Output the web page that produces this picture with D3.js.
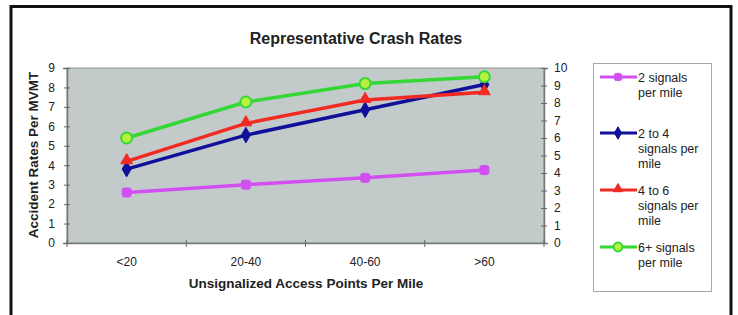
<!DOCTYPE html>
<html lang="en">
<head>
<meta charset="UTF-8">
<title>Representative Crash Rates</title>
<script src="https://d3js.org/d3.v7.min.js"></script>
<style>
    body { margin: 0; background: #ffffff; }
    svg text { font-family: "Liberation Sans", Arial, sans-serif; fill: #222; }
</style>
</head>
<body>
<svg id="chart" width="738" height="315"></svg>
<script>
    // Data
    var categories = ["<20", "20-40", "40-60", ">60"];
    var seriesNames = ["2 signals per mile", "2 to 4 signals per mile", "4 to 6 signals per mile", "6+ signals per mile"];
    var legendLines = [["2 signals", "per mile"], ["2 to 4", "signals per", "mile"], ["4 to 6", "signals per", "mile"], ["6+ signals", "per mile"]];
    var twoSignals = [2.6, 3.0, 3.35, 3.75];
    var twoToFour = [3.8, 5.55, 6.85, 8.15];
    var fourToSix = [4.2, 6.15, 7.35, 7.75];
    var sixPlus = [5.4, 7.25, 8.2, 8.55];
    var leftTicks = [0, 1, 2, 3, 4, 5, 6, 7, 8, 9];
    var rightTicks = [0, 1, 2, 3, 4, 5, 6, 7, 8, 9, 10];

    var series = [
        { name: seriesNames[0], values: twoSignals, color: "#d24ff0", marker: "square", fill: "#d24ff0" },
        { name: seriesNames[1], values: twoToFour, color: "#10109a", marker: "diamond", fill: "#10109a" },
        { name: seriesNames[2], values: fourToSix, color: "#f22a22", marker: "triangle", fill: "#f22a22" },
        { name: seriesNames[3], values: sixPlus, color: "#34d834", marker: "circle", fill: "#b8f040" }
    ];

    var svg = d3.select("#chart");

    // outer frame (no bottom edge in the picture)
    svg.append("path")
        .attr("d", "M11,330 L11,6.5 L731,6.5 L731,330")
        .attr("fill", "none")
        .attr("stroke", "#111")
        .attr("stroke-width", 3);

    var plot = { left: 67, right: 544, top: 68, bottom: 243 };

    var x = d3.scaleBand().domain(categories).range([plot.left, plot.right]);
    var y = d3.scaleLinear().domain([0, 9]).range([plot.bottom, plot.top]);
    var y2 = d3.scaleLinear().domain([0, 10]).range([plot.bottom, plot.top]);

    // plot background
    svg.append("rect")
        .attr("x", plot.left).attr("y", plot.top)
        .attr("width", plot.right - plot.left).attr("height", plot.bottom - plot.top)
        .attr("fill", "#c3cbca")
        .attr("stroke", "#8c9494");

    // left axis
    var gl = svg.append("g").attr("transform", "translate(" + plot.left + ",0)")
        .call(d3.axisLeft(y).tickValues(leftTicks).tickSize(4).tickPadding(8));
    // right axis
    var gr = svg.append("g").attr("transform", "translate(" + plot.right + ",0)")
        .call(d3.axisRight(y2).tickValues(rightTicks).tickSize(4).tickPadding(6));
    // bottom axis, ticks at category boundaries
    var gb = svg.append("g").attr("transform", "translate(0," + plot.bottom + ")")
        .call(d3.axisBottom(x).tickSize(0).tickPadding(14));
    gb.selectAll(".bound").data(d3.range(categories.length + 1)).join("line")
        .attr("x1", function (i) { return plot.left + i * x.bandwidth(); })
        .attr("x2", function (i) { return plot.left + i * x.bandwidth(); })
        .attr("y1", -3).attr("y2", 4)
        .attr("stroke", "#666");

    [gl, gr, gb].forEach(function (g) {
        g.select(".domain").attr("stroke", "#777").attr("stroke-width", 1.5);
        g.selectAll(".tick line").attr("stroke", "#666");
        g.selectAll(".tick text").attr("font-size", 12).attr("fill", "#333");
    });
    gl.selectAll(".tick line").attr("x2", 3).attr("x1", -3);
    gr.selectAll(".tick line").attr("x1", -3).attr("x2", 3);

    // lines
    var line = d3.line()
        .x(function (d, i) { return x(categories[i]) + x.bandwidth() / 2; })
        .y(function (d) { return y(d); });

    function drawMarker(g, s, cx, cy, scale) {
        var k = scale || 1;
        if (s.marker === "square") {
            g.append("rect").attr("x", cx - 4.5 * k).attr("y", cy - 4.5 * k)
                .attr("width", 9 * k).attr("height", 9 * k).attr("rx", 2)
                .attr("fill", s.fill).attr("stroke", s.color);
        } else if (s.marker === "diamond") {
            g.append("path").attr("d", d3.symbol(d3.symbolDiamond, 70 * k * k)())
                .attr("transform", "translate(" + cx + "," + cy + ")")
                .attr("fill", s.fill).attr("stroke", s.color);
        } else if (s.marker === "triangle") {
            g.append("path").attr("d", d3.symbol(d3.symbolTriangle, 60 * k * k)())
                .attr("transform", "translate(" + cx + "," + (cy - 1) + ")")
                .attr("fill", s.fill).attr("stroke", s.color);
        } else {
            g.append("circle").attr("cx", cx).attr("cy", cy).attr("r", 5.5 * k)
                .attr("fill", s.fill).attr("stroke", s.color).attr("stroke-width", 2);
        }
    }

    series.forEach(function (s) {
        svg.append("path")
            .datum(s.values)
            .attr("d", line)
            .attr("fill", "none")
            .attr("stroke", s.color)
            .attr("stroke-width", 3.5);
        var g = svg.append("g");
        s.values.forEach(function (v, i) {
            drawMarker(g, s, x(categories[i]) + x.bandwidth() / 2, y(v));
        });
    });

    // titles
    svg.append("text")
        .attr("x", 356).attr("y", 44)
        .attr("text-anchor", "middle")
        .attr("font-size", 16).attr("font-weight", "bold")
        .text("Representative Crash Rates");

    svg.append("text")
        .attr("x", 306).attr("y", 288)
        .attr("text-anchor", "middle")
        .attr("font-size", 13.5).attr("font-weight", "bold")
        .text("Unsignalized Access Points Per Mile");

    svg.append("text")
        .attr("transform", "translate(38,155) rotate(-90)")
        .attr("text-anchor", "middle")
        .attr("font-size", 13.5).attr("font-weight", "bold")
        .text("Accident Rates Per MVMT");

    // legend
    svg.append("rect")
        .attr("x", 593.5).attr("y", 63.5)
        .attr("width", 118).attr("height", 228)
        .attr("fill", "#ffffff")
        .attr("stroke", "#a8a8a8");

    var legendY = [77, 133, 190, 247];
    series.forEach(function (s, i) {
        var g = svg.append("g");
        g.append("line")
            .attr("x1", 600).attr("x2", 637)
            .attr("y1", legendY[i]).attr("y2", legendY[i])
            .attr("stroke", s.color).attr("stroke-width", 3);
        drawMarker(g, s, 618, legendY[i], 0.8);
        legendLines[i].forEach(function (t, j) {
            g.append("text")
                .attr("x", 638).attr("y", legendY[i] + j * 15 + 4.5)
                .attr("font-size", 12.5).attr("fill", "#333")
                .text(t);
        });
    });
</script>
</body>
</html>
